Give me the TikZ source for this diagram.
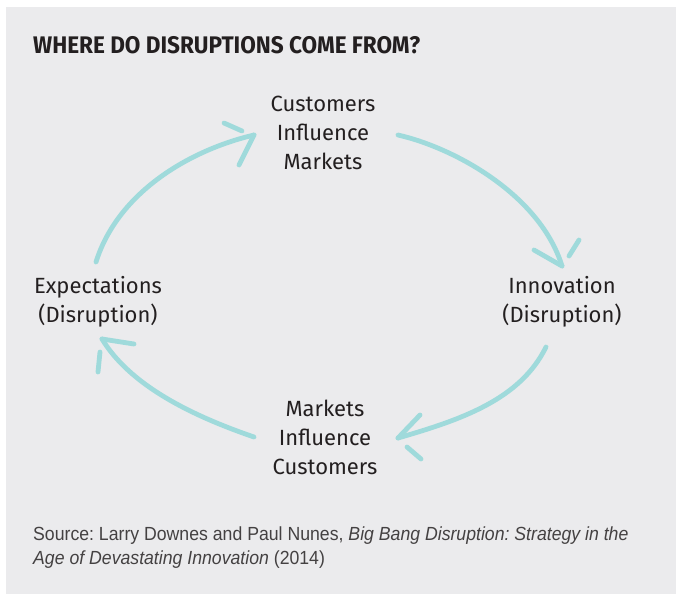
\documentclass[tikz,border=0pt]{standalone}
\usepackage{fontspec}
\setmainfont{Fira Sans}
\newfontfamily\headfont[FakeStretch=0.94]{Fira Sans}
\newfontfamily\srcfont[FakeStretch=0.93]{Liberation Sans}
\usetikzlibrary{calc}
\definecolor{panel}{HTML}{EBEBED}
\definecolor{cycle}{HTML}{9FDADB}
\definecolor{ink}{HTML}{231F20}
\frenchspacing

\begin{document}
\begin{tikzpicture}
    [
      x=1pt, y=-1pt,
      step label/.style={align=center, text=ink, font=\fontsize{22}{29}\selectfont, inner sep=0pt},
      cycle arrow/.style={draw=cycle, line width=4.8pt, line cap=round, line join=round}
    ]
    \useasboundingbox (0,0) rectangle (676,594);
    \fill [panel] (6,7) rectangle (676,594);
    \node (title) [anchor=west, text=ink, font=\headfont\bfseries\fontsize{24}{28}\selectfont, inner sep=0pt]
      at (33,45) {WHERE DO DISRUPTIONS COME FROM?};
    \node (cust) [step label] at (323,133) {Customers\\Influence\\Markets};
    \node (innov) [step label] at (562,302) {Innovation\\(Disruption)};
    \node (mark) [step label] at (325,437) {Markets\\Influence\\Customers};
    \node (expect) [step label] at (98,302) {Expectations\\(Disruption)};
    \node (source) [anchor=north west, align=left, text=ink!85, font=\srcfont\fontsize{19}{24}\selectfont, inner sep=0pt]
      at (33,527) {Source: Larry Downes and Paul Nunes, \textit{Big Bang Disruption: Strategy in the}\\
      \textit{Age of Devastating Innovation} (2014)};
    % arrow ends
    \coordinate (a1s) at (96,262);  \coordinate (a1t) at (254,135);
    \coordinate (a2s) at (398,135); \coordinate (a2t) at (562,266);
    \coordinate (a3s) at (546,347); \coordinate (a3t) at (398,438);
    \coordinate (a4s) at (254,437); \coordinate (a4t) at (102,339);
    \draw [cycle arrow] (a1s) .. controls (118,192) and (190,150) .. (a1t);
    \draw [cycle arrow] (a2s) .. controls (455,148) and (540,195) .. (a2t);
    \draw [cycle arrow] (a3s) .. controls (520,400) and (460,420) .. (a3t);
    \draw [cycle arrow] (a4s) .. controls (190,415) and (130,385) .. (a4t);
    % heads: one barb on the tip, the other set apart
    \foreach \t/\b/\o/\d in {a1t/{-15,30}/{-30,-12}/{18,8},
                             a2t/{-28,-16}/{7,-10}/{10,-16},
                             a3t/{22,-23}/{9,9}/{14,12},
                             a4t/{32,5}/{-2,13}/{-2,20}}
    {
      \draw [cycle arrow] (\t) -- ++(\b);
      \draw [cycle arrow] ($(\t)+(\o)$) -- ++(\d);
    }
\end{tikzpicture}
\end{document}
